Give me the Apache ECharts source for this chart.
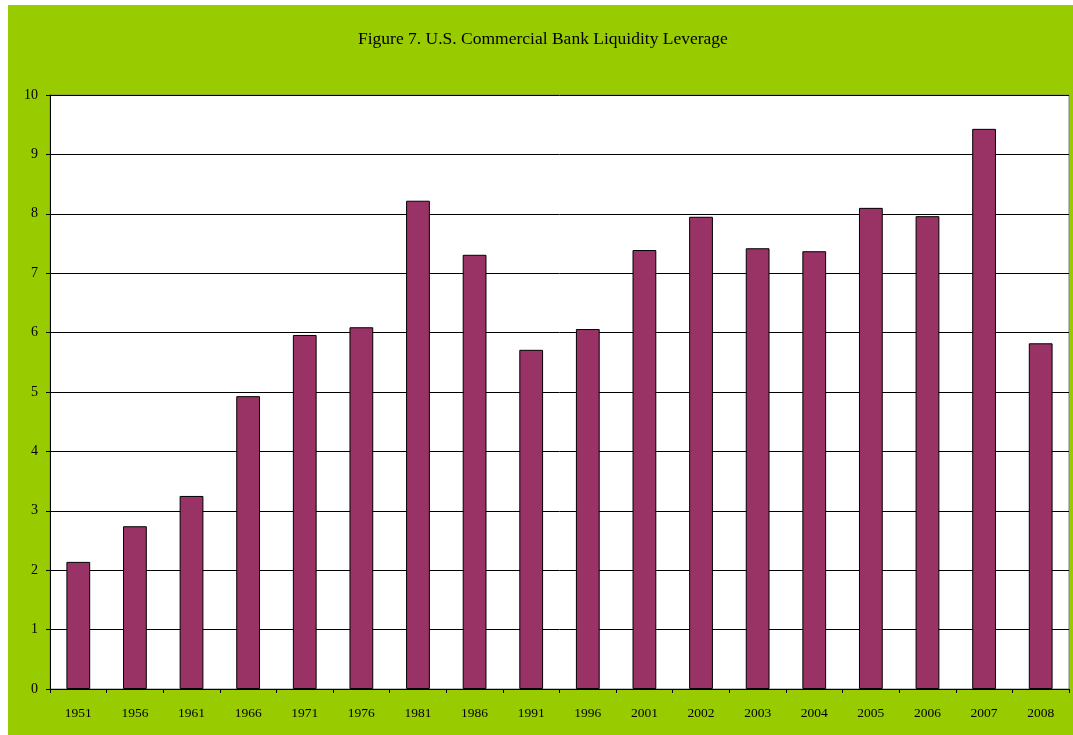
<!DOCTYPE html>
<html>
<head>
<meta charset="utf-8">
<script src="https://cdn.jsdelivr.net/npm/echarts@6/dist/echarts.min.js"></script>
<style>
html,body{margin:0;padding:0;background:#fff;}
#chart{width:1073px;height:735px;}
</style>
</head>
<body>
<div id="chart"></div>
<script>
var categories = ['1951','1956','1961','1966','1971','1976','1981','1986','1991','1996','2001','2002','2003','2004','2005','2006','2007','2008'];
var leverage = [2.14,2.74,3.25,4.93,5.96,6.09,8.22,7.31,5.71,6.06,7.39,7.95,7.42,7.37,8.10,7.96,9.43,5.82];
var yTicks = {min:0, max:10, interval:1};

var chart = echarts.init(document.getElementById('chart'), null, {renderer:'canvas'});
chart.setOption({
  animation:false,
  backgroundColor:'#ffffff',
  graphic:[{type:'rect', z:-10, silent:true, shape:{x:8,y:5,width:1065,height:730}, style:{fill:'#99CC00'}}],
  title:{
    text:'Figure 7. U.S. Commercial Bank Liquidity Leverage',
    left:353, top:25,
    textStyle:{fontFamily:'Liberation Serif', fontSize:17.5, fontWeight:'normal', color:'#000'}
  },
  grid:{left:50, right:4, top:95, bottom:46, show:true, backgroundColor:'#ffffff', borderColor:'#808080', borderWidth:1, containLabel:false},
  xAxis:{
    type:'category', data:categories, boundaryGap:true,
    axisLine:{lineStyle:{color:'#000', width:1}},
    axisTick:{show:true, alignWithLabel:false, length:4, lineStyle:{color:'#000'}},
    axisLabel:{fontFamily:'Liberation Serif', fontSize:13.5, color:'#000', margin:17, interval:0}
  },
  yAxis:{
    type:'value', min:yTicks.min, max:yTicks.max, interval:yTicks.interval,
    axisLine:{show:true, lineStyle:{color:'#000', width:1}},
    axisTick:{show:true, length:4, lineStyle:{color:'#000'}},
    axisLabel:{fontFamily:'Liberation Serif', fontSize:14, color:'#000', margin:12},
    splitLine:{show:true, lineStyle:{color:'#000', width:1}}
  },
  series:[{
    type:'bar', data:leverage, barCategoryGap:'58%',
    itemStyle:{color:'#993366', borderColor:'#000', borderWidth:1}
  }]
});
</script>
</body>
</html>
